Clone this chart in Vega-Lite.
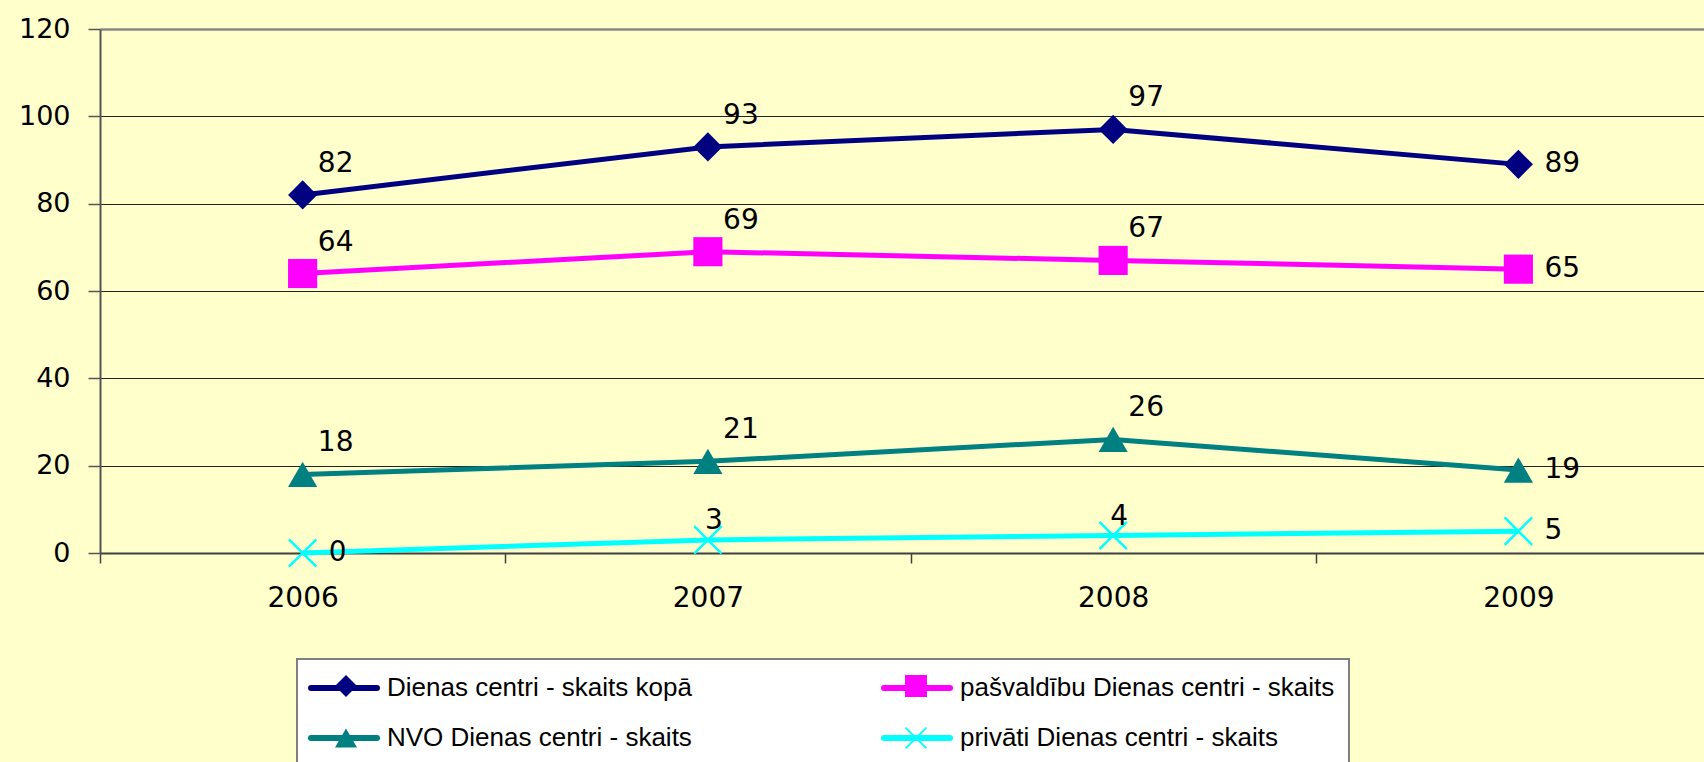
{
  "$schema": "https://vega.github.io/schema/vega-lite/v6.json",
  "width": 1604,
  "height": 524,
  "autosize": {"type": "none"},
  "padding": {"left": 100, "top": 29, "right": 0, "bottom": 209},
  "background": "#FFFFCC",
  "config": {"view": {"stroke": null, "fill": "#FFFFCC"}, "font": "Liberation Sans"},
  "data": {
    "values": [
      {"year": 2006, "series": "Dienas centri - skaits kopā", "group": "Dienas centri - skaits kopā", "value": 82},
      {"year": 2007, "series": "Dienas centri - skaits kopā", "group": "Dienas centri - skaits kopā", "value": 93},
      {"year": 2008, "series": "Dienas centri - skaits kopā", "group": "Dienas centri - skaits kopā", "value": 97},
      {"year": 2009, "series": "Dienas centri - skaits kopā", "group": "Dienas centri - skaits kopā", "value": 89},
      {"year": 2006, "series": "pašvaldību Dienas centri - skaits", "group": "pašvaldību Dienas centri - skaits", "value": 64},
      {"year": 2007, "series": "pašvaldību Dienas centri - skaits", "group": "pašvaldību Dienas centri - skaits", "value": 69},
      {"year": 2008, "series": "pašvaldību Dienas centri - skaits", "group": "pašvaldību Dienas centri - skaits", "value": 67},
      {"year": 2009, "series": "pašvaldību Dienas centri - skaits", "group": "pašvaldību Dienas centri - skaits", "value": 65},
      {"year": 2006, "series": "NVO Dienas centri - skaits", "group": "NVO Dienas centri - skaits", "value": 18},
      {"year": 2007, "series": "NVO Dienas centri - skaits", "group": "NVO Dienas centri - skaits", "value": 21},
      {"year": 2008, "series": "NVO Dienas centri - skaits", "group": "NVO Dienas centri - skaits", "value": 26},
      {"year": 2009, "series": "NVO Dienas centri - skaits", "group": "NVO Dienas centri - skaits", "value": 19},
      {"year": 2006, "series": "privāti Dienas centri - skaits", "group": "privāti Dienas centri - skaits", "value": 0},
      {"year": 2007, "series": "privāti Dienas centri - skaits", "group": "privāti Dienas centri - skaits", "value": 3},
      {"year": 2008, "series": "privāti Dienas centri - skaits", "group": "privāti Dienas centri - skaits", "value": 4},
      {"year": 2009, "series": "privāti Dienas centri - skaits", "group": "privāti Dienas centri - skaits", "value": 5}
    ]
  },
  "encoding": {
    "x": {
      "field": "year", "type": "quantitative",
      "scale": {"domain": [2005.5, 2009.458], "nice": false, "zero": false},
      "axis": {
        "title": null,
        "values": [2005.5, 2006, 2006.5, 2007, 2007.5, 2008, 2008.5, 2009],
        "labelExpr": "datum.value % 1 === 0 ? format(datum.value, 'd') : ''",
        "grid": false,
        "domainColor": "#404040", "domainWidth": 2,
        "tickColor": "#404040", "tickWidth": 1.5, "tickSize": 10,
        "tickOpacity": {"condition": {"test": "datum.value % 1 === 0", "value": 0}, "value": 1},
        "labelFontSize": 28, "labelFont": "DejaVu Sans", "labelColor": "#000000",
        "labelPadding": 21, "labelOverlap": false, "labelFlush": false
      }
    },
    "y": {
      "field": "value", "type": "quantitative",
      "scale": {"domain": [0, 120], "nice": false},
      "axis": {
        "title": null,
        "values": [0, 20, 40, 60, 80, 100, 120],
        "grid": true,
        "gridColor": {"condition": {"test": "datum.value === 120", "value": "#888888"}, "value": "#222222"},
        "gridWidth": {"condition": {"test": "datum.value === 120", "value": 2.5}, "value": 1.2},
        "domainColor": "#555555", "domainWidth": 2,
        "tickColor": "#555555", "tickSize": 12, "tickWidth": 1.5,
        "labelFontSize": 27, "labelFont": "DejaVu Sans", "labelColor": "#000000", "labelPadding": 18
      }
    }
  },
  "layer": [
    {
      "mark": {"type": "line", "strokeWidth": 5},
      "encoding": {
        "stroke": {
          "field": "series", "type": "nominal",
          "scale": {"range": ["#000080", "#008080", "#FF00FF", "#00FFFF"]},
          "legend": {
            "orient": "none", "legendX": 197, "legendY": 630, "columns": 2, "title": null,
            "symbolType": "M-1.25,0H4.25", "symbolSize": 576, "symbolStrokeWidth": 6,
            "labelFontSize": 26, "labelFont": "Liberation Sans", "labelColor": "#000000",
            "labelOffset": 46, "labelLimit": 1000, "columnPadding": 180, "rowPadding": 22,
            "padding": 14, "fillColor": "#FFFFFF", "strokeColor": "#808080",
            "encode": {
              "symbols": {"update": {"strokeCap": {"value": "round"}}},
              "legend": {"update": {"strokeWidth": {"value": 2}}}
            }
          }
        }
      }
    },
    {
      "mark": {"type": "point", "filled": true, "size": 850, "strokeWidth": 0, "opacity": 1},
      "encoding": {
        "fill": {
          "field": "group", "type": "nominal",
          "scale": {
            "domain": ["Dienas centri - skaits kopā", "NVO Dienas centri - skaits", "pašvaldību Dienas centri - skaits", "privāti Dienas centri - skaits"],
            "range": ["#000080", "#008080", "#FF00FF", "#00FFFF"]
          },
          "legend": {
            "orient": "none", "legendX": 219, "legendY": 630, "columns": 2, "title": null,
            "symbolSize": 484, "symbolStrokeWidth": 0, "symbolOpacity": 1,
            "labelFontSize": 26, "labelFont": "Liberation Sans", "labelOpacity": 0,
            "labelOffset": 32, "labelLimit": 1000, "columnPadding": 512, "rowPadding": 26,
            "padding": 14,
            "encode": {"labels": {"update": {"text": {"value": ""}}}}
          }
        },
        "shape": {
          "field": "group", "type": "nominal",
          "scale": {
            "domain": ["Dienas centri - skaits kopā", "NVO Dienas centri - skaits", "pašvaldību Dienas centri - skaits", "privāti Dienas centri - skaits"],
            "range": ["diamond", "triangle-up", "square", "M-1,-0.88L-0.88,-1L0,-0.12L0.88,-1L1,-0.88L0.12,0L1,0.88L0.88,1L0,0.12L-0.88,1L-1,0.88L-0.12,0Z"]
          },
          "legend": {
            "orient": "none", "legendX": 219, "legendY": 630, "columns": 2, "title": null,
            "symbolSize": 484, "symbolStrokeWidth": 0, "symbolOpacity": 1,
            "labelFontSize": 26, "labelFont": "Liberation Sans", "labelOpacity": 0,
            "labelOffset": 32, "labelLimit": 1000, "columnPadding": 512, "rowPadding": 26,
            "padding": 14,
            "encode": {"labels": {"update": {"text": {"value": ""}}}}
          }
        }
      }
    },
    {
      "transform": [{"filter": "datum.series !== 'privāti Dienas centri - skaits' && datum.year < 2009"}],
      "mark": {"type": "text", "align": "center", "baseline": "middle", "dx": 33, "dy": -31, "fontSize": 28, "font": "DejaVu Sans", "color": "#000000"},
      "encoding": {"text": {"field": "value", "type": "quantitative"}}
    },
    {
      "transform": [{"filter": "datum.year === 2009 || (datum.series === 'privāti Dienas centri - skaits' && datum.year === 2006)"}],
      "mark": {"type": "text", "align": "left", "baseline": "middle", "dx": 26, "dy": 0, "fontSize": 28, "font": "DejaVu Sans", "color": "#000000"},
      "encoding": {"text": {"field": "value", "type": "quantitative"}}
    },
    {
      "transform": [{"filter": "datum.series === 'privāti Dienas centri - skaits' && datum.year > 2006 && datum.year < 2009"}],
      "mark": {"type": "text", "align": "center", "baseline": "middle", "dx": 6, "dy": -19, "fontSize": 28, "font": "DejaVu Sans", "color": "#000000"},
      "encoding": {"text": {"field": "value", "type": "quantitative"}}
    }
  ]
}
